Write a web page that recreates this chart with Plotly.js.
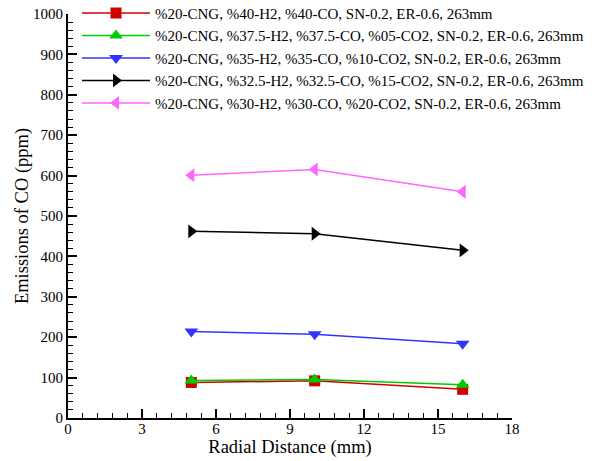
<!DOCTYPE html>
<html><head><meta charset="utf-8">
<script src="https://cdn.plot.ly/plotly-3.0.1.min.js"></script>
<style>body{margin:0;padding:0;background:#fff}</style>
</head><body>
<div id="chart" style="width:597px;height:461px"></div>
<script>
const radialDistance = [5, 10, 16];
const seriesNames = [
  "%20-CNG, %40-H2, %40-CO, SN-0.2, ER-0.6, 263mm",
  "%20-CNG, %37.5-H2, %37.5-CO, %05-CO2, SN-0.2, ER-0.6, 263mm",
  "%20-CNG, %35-H2, %35-CO, %10-CO2, SN-0.2, ER-0.6, 263mm",
  "%20-CNG, %32.5-H2, %32.5-CO, %15-CO2, SN-0.2, ER-0.6, 263mm",
  "%20-CNG, %30-H2, %30-CO, %20-CO2, SN-0.2, ER-0.6, 263mm"
];
const co_40H2 = [88, 92, 71];
const co_375H2 = [93, 95, 82];
const co_35H2 = [214, 207, 184];
const co_325H2 = [462, 456, 415];
const co_30H2 = [601, 615, 560];
const xTickVals = [0, 3, 6, 9, 12, 15, 18];
const yTickVals = [0, 100, 200, 300, 400, 500, 600, 700, 800, 900, 1000];

const seriesData = [co_40H2, co_375H2, co_35H2, co_325H2, co_30H2];
const colors = ["#d00000", "#00cc00", "#3333ff", "#000000", "#ff66ff"];
const symbols = ["square", "triangle-up", "triangle-down", "triangle-right", "triangle-left"];
const sizes = [11, 12, 12, 12, 12];

const traces = seriesData.map((ys, i) => ({
  x: radialDistance, y: ys, name: seriesNames[i], type: "scatter", mode: "lines+markers",
  line: {color: colors[i], width: 1.5},
  marker: {color: colors[i], symbol: symbols[i], size: sizes[i]}
}));

const font = "Liberation Serif, Times New Roman, serif";
const layout = {
  width: 597, height: 461,
  margin: {l: 68, r: 85, t: 14, b: 43, autoexpand: false},
  paper_bgcolor: "#fff", plot_bgcolor: "#fff",
  font: {family: font, color: "#000", size: 15},
  showlegend: true,
  legend: {x: 0.0203, y: 1.043, xanchor: "left", yanchor: "top", bgcolor: "rgba(0,0,0,0)",
    font: {family: font, size: 15, color: "#000"}, itemwidth: 68, tracegroupgap: 0},
  xaxis: {range: [0, 18], tickvals: xTickVals, ticktext: xTickVals.map(String),
    showgrid: false, zeroline: false, showline: true, linecolor: "#000", linewidth: 2,
    ticks: "inside", ticklen: 9, tickwidth: 2, tickcolor: "#000",
    minor: {dtick: 0.6, ticks: "inside", ticklen: 5, tickwidth: 1, tickcolor: "#000"},
    tickfont: {family: font, size: 15}, ticklabelstandoff: -4,
    title: {text: "Radial Distance (mm)", font: {family: font, size: 18.5}, standoff: 0}},
  yaxis: {range: [0, 1000], tickvals: yTickVals, ticktext: yTickVals.map(String),
    showgrid: false, zeroline: false, showline: true, linecolor: "#000", linewidth: 2,
    ticks: "inside", ticklen: 9, tickwidth: 2, tickcolor: "#000",
    minor: {dtick: 20, ticks: "inside", ticklen: 5, tickwidth: 1, tickcolor: "#000"},
    tickfont: {family: font, size: 15},
    title: {text: "Emissions of CO (ppm)", font: {family: font, size: 18.5}, standoff: 0}}
};
Plotly.newPlot("chart", traces, layout, {displayModeBar: false, staticPlot: true});
</script>
</body></html>
